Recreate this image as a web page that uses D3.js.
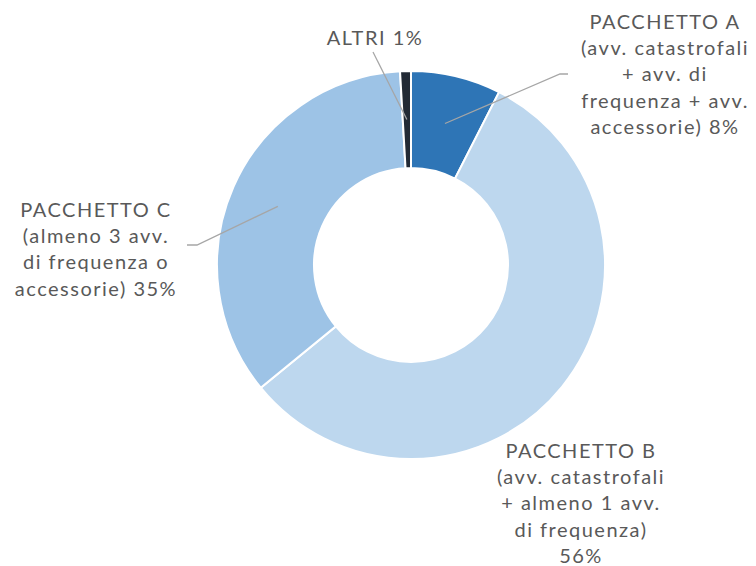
<!DOCTYPE html>
<html>
<head>
<meta charset="utf-8">
<script src="https://cdn.jsdelivr.net/npm/d3@7"></script>
<style>
  body { margin: 0; background: #fff; }
  svg text { font-family: "Lato", "Open Sans", sans-serif; fill: #595959; letter-spacing: 1.5px; }
</style>
</head>
<body>
<svg id="chart" width="756" height="566"></svg>
<script>
// slice data, clockwise from 12 o'clock
const categories = ["PACCHETTO A", "PACCHETTO B", "PACCHETTO C", "ALTRI"];
const shares = [7.5, 56.6, 35.0, 0.9];
const labelLines = [
    ["PACCHETTO A", "(avv. catastrofali", "+ avv. di", "frequenza + avv.", "accessorie) 8%"],
    ["PACCHETTO B", "(avv. catastrofali", "+ almeno 1 avv.", "di frequenza)", "56%"],
    ["PACCHETTO C", "(almeno 3 avv.", "di frequenza o", "accessorie) 35%"],
    ["ALTRI 1%"]
];
const colors = ["#2E75B6", "#BDD7EE", "#9DC3E6", "#222A35"];

const cx = 411, cy = 265;
const outerR = 194, innerR = 97;
const lineH = 26.2;

// label anchor (center x, first baseline y) and where the leader line ends
const labelPos = [
    { x: 665, y: 29, leader: [[560, 74], [568, 74]] },
    { x: 581, y: 458, leader: null },
    { x: 96, y: 217, leader: [[197, 245], [187, 245]] },
    { x: 375, y: 45, leader: [[373, 52]] }
];

const svg = d3.select("#chart");
const g = svg.append("g").attr("transform", `translate(${cx},${cy})`);

const pie = d3.pie().sort(null).value(d => d.value);
const arcs = pie(categories.map((c, i) => ({ name: c, value: shares[i] })));

const arc = d3.arc().innerRadius(innerR).outerRadius(outerR);

g.selectAll("path.slice")
    .data(arcs)
    .enter()
    .append("path")
    .attr("class", "slice")
    .attr("d", arc)
    .attr("fill", (d, i) => colors[i])
    .attr("stroke", "#fff")
    .attr("stroke-width", 2);

// leader lines start at the slice centroid
arcs.forEach((d, i) => {
    const p = labelPos[i];
    if (!p.leader) return;
    const c = arc.centroid(d);
    const pts = [[c[0] + cx, c[1] + cy]].concat(p.leader);
    svg.append("path")
        .attr("d", d3.line()(pts))
        .attr("fill", "none")
        .attr("stroke", "#A6A6A6")
        .attr("stroke-width", 1.3);
});

labelLines.forEach((lines, i) => {
    const p = labelPos[i];
    const t = svg.append("text")
        .attr("text-anchor", "middle")
        .attr("font-size", 20);
    lines.forEach((s, j) => {
        t.append("tspan")
            .attr("x", p.x)
            .attr("y", p.y + j * lineH)
            .text(s);
    });
});
</script>
</body>
</html>
